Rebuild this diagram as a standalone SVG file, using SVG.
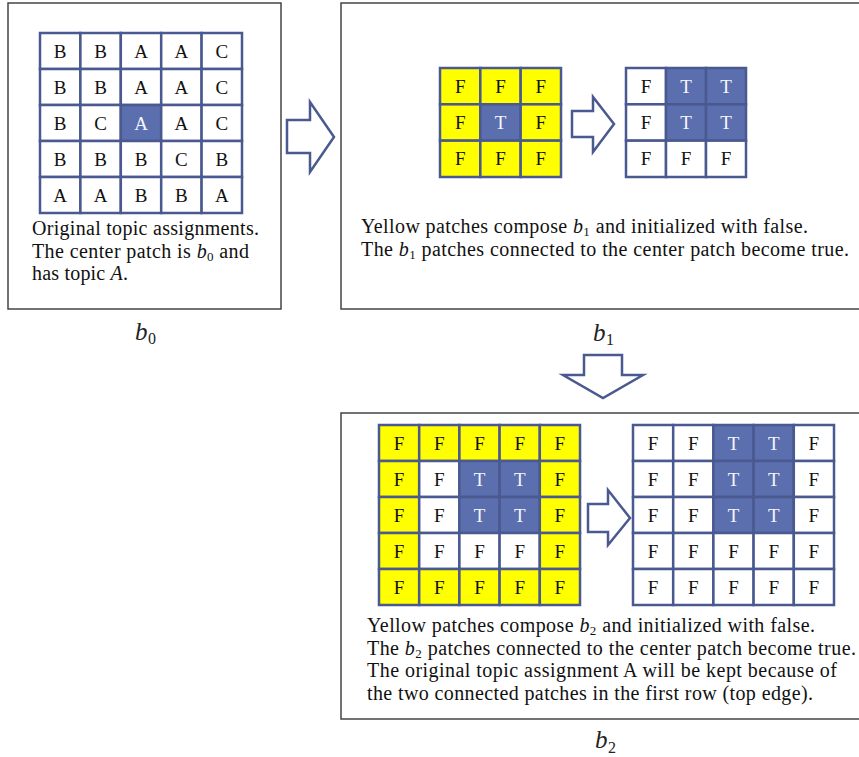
<svg xmlns="http://www.w3.org/2000/svg" width="859" height="757" viewBox="0 0 859 757">
<style>
.box{fill:#fff;stroke:#444;stroke-width:1.5}
.c{stroke:#4a5990;stroke-width:2.5}
.y{fill:#ffff00}
.w{fill:#fff}
.b{fill:#5b6eae}
.arr{fill:#fff;stroke:#4a5990;stroke-width:2.5;stroke-linejoin:miter}
text{font-family:"Liberation Serif","Times New Roman",serif;fill:#111}
.g text{font-size:19px;text-anchor:middle}
.g text.tw{fill:#f4f6fb}
.p{font-size:20px}
.s{font-size:13px}
.lbl{font-size:25px;font-style:italic;fill:#222}
.sub{font-size:16px;fill:#222}
</style>
<rect width="859" height="757" fill="#fff"/>

<g id="panel-b0">
<rect class="box" x="8" y="3" width="273" height="306"/>
<g id="grid-b0" class="g">
<rect class="c w" x="40" y="33" width="40.4" height="36"/><rect class="c w" x="80.4" y="33" width="40.4" height="36"/><rect class="c w" x="120.8" y="33" width="40.4" height="36"/><rect class="c w" x="161.2" y="33" width="40.4" height="36"/><rect class="c w" x="201.6" y="33" width="40.4" height="36"/>
<rect class="c w" x="40" y="69" width="40.4" height="36"/><rect class="c w" x="80.4" y="69" width="40.4" height="36"/><rect class="c w" x="120.8" y="69" width="40.4" height="36"/><rect class="c w" x="161.2" y="69" width="40.4" height="36"/><rect class="c w" x="201.6" y="69" width="40.4" height="36"/>
<rect class="c w" x="40" y="105" width="40.4" height="36"/><rect class="c w" x="80.4" y="105" width="40.4" height="36"/><rect class="c b" x="120.8" y="105" width="40.4" height="36"/><rect class="c w" x="161.2" y="105" width="40.4" height="36"/><rect class="c w" x="201.6" y="105" width="40.4" height="36"/>
<rect class="c w" x="40" y="141" width="40.4" height="36"/><rect class="c w" x="80.4" y="141" width="40.4" height="36"/><rect class="c w" x="120.8" y="141" width="40.4" height="36"/><rect class="c w" x="161.2" y="141" width="40.4" height="36"/><rect class="c w" x="201.6" y="141" width="40.4" height="36"/>
<rect class="c w" x="40" y="177" width="40.4" height="36"/><rect class="c w" x="80.4" y="177" width="40.4" height="36"/><rect class="c w" x="120.8" y="177" width="40.4" height="36"/><rect class="c w" x="161.2" y="177" width="40.4" height="36"/><rect class="c w" x="201.6" y="177" width="40.4" height="36"/>
<text x="60.2" y="57.5">B</text><text x="100.6" y="57.5">B</text><text x="141" y="57.5">A</text><text x="181.4" y="57.5">A</text><text x="221.8" y="57.5">C</text>
<text x="60.2" y="93.5">B</text><text x="100.6" y="93.5">B</text><text x="141" y="93.5">A</text><text x="181.4" y="93.5">A</text><text x="221.8" y="93.5">C</text>
<text x="60.2" y="129.5">B</text><text x="100.6" y="129.5">C</text><text class="tw" x="141" y="129.5">A</text><text x="181.4" y="129.5">A</text><text x="221.8" y="129.5">C</text>
<text x="60.2" y="165.5">B</text><text x="100.6" y="165.5">B</text><text x="141" y="165.5">B</text><text x="181.4" y="165.5">C</text><text x="221.8" y="165.5">B</text>
<text x="60.2" y="201.5">A</text><text x="100.6" y="201.5">A</text><text x="141" y="201.5">B</text><text x="181.4" y="201.5">B</text><text x="221.8" y="201.5">A</text>
</g>
<text class="p" x="32" y="235" textLength="227" lengthAdjust="spacing">Original topic assignments.</text>
<text class="p" x="32" y="258" textLength="217" lengthAdjust="spacing">The center patch is <tspan font-style="italic">b</tspan><tspan class="s" dy="3">0</tspan><tspan dy="-3"> and</tspan></text>
<text class="p" x="32" y="280" textLength="96" lengthAdjust="spacing">has topic <tspan font-style="italic">A</tspan>.</text>
<text class="lbl" x="135" y="340">b</text><text class="sub" x="148" y="344">0</text>
</g>

<g id="panel-b1">
<rect class="box" x="341" y="3" width="525" height="306"/>
<g id="grid-b1-in" class="g">
<rect class="c y" x="440" y="68" width="40.33" height="36.33"/><rect class="c y" x="480.33" y="68" width="40.33" height="36.33"/><rect class="c y" x="520.67" y="68" width="40.33" height="36.33"/>
<rect class="c y" x="440" y="104.33" width="40.33" height="36.33"/><rect class="c b" x="480.33" y="104.33" width="40.33" height="36.33"/><rect class="c y" x="520.67" y="104.33" width="40.33" height="36.33"/>
<rect class="c y" x="440" y="140.67" width="40.33" height="36.33"/><rect class="c y" x="480.33" y="140.67" width="40.33" height="36.33"/><rect class="c y" x="520.67" y="140.67" width="40.33" height="36.33"/>
<text x="460.2" y="92.7">F</text><text x="500.5" y="92.7">F</text><text x="540.8" y="92.7">F</text>
<text x="460.2" y="129">F</text><text class="tw" x="500.5" y="129">T</text><text x="540.8" y="129">F</text>
<text x="460.2" y="165.3">F</text><text x="500.5" y="165.3">F</text><text x="540.8" y="165.3">F</text>
</g>
<g id="grid-b1-out" class="g">
<rect class="c w" x="626" y="68" width="40" height="36.33"/><rect class="c b" x="666" y="68" width="40" height="36.33"/><rect class="c b" x="706" y="68" width="40" height="36.33"/>
<rect class="c w" x="626" y="104.33" width="40" height="36.33"/><rect class="c b" x="666" y="104.33" width="40" height="36.33"/><rect class="c b" x="706" y="104.33" width="40" height="36.33"/>
<rect class="c w" x="626" y="140.67" width="40" height="36.33"/><rect class="c w" x="666" y="140.67" width="40" height="36.33"/><rect class="c w" x="706" y="140.67" width="40" height="36.33"/>
<text x="646" y="92.7">F</text><text class="tw" x="686" y="92.7">T</text><text class="tw" x="726" y="92.7">T</text>
<text x="646" y="129">F</text><text class="tw" x="686" y="129">T</text><text class="tw" x="726" y="129">T</text>
<text x="646" y="165.3">F</text><text x="686" y="165.3">F</text><text x="726" y="165.3">F</text>
</g>
<text class="p" x="361" y="233" textLength="447" lengthAdjust="spacing">Yellow patches compose <tspan font-style="italic">b</tspan><tspan class="s" dy="3">1</tspan><tspan dy="-3"> and initialized  with  false.</tspan></text>
<text class="p" x="361" y="256" textLength="488" lengthAdjust="spacing">The <tspan font-style="italic">b</tspan><tspan class="s" dy="3">1</tspan><tspan dy="-3"> patches connected to the center patch become true.</tspan></text>
<text class="lbl" x="593" y="341">b</text><text class="sub" x="606" y="345">1</text>
</g>

<g id="panel-b2">
<rect class="box" x="341" y="413" width="525" height="306"/>
<g id="grid-b2-in" class="g">
<rect class="c y" x="379" y="425" width="40.2" height="36"/><rect class="c y" x="419.2" y="425" width="40.2" height="36"/><rect class="c y" x="459.4" y="425" width="40.2" height="36"/><rect class="c y" x="499.6" y="425" width="40.2" height="36"/><rect class="c y" x="539.8" y="425" width="40.2" height="36"/>
<rect class="c y" x="379" y="461" width="40.2" height="36"/><rect class="c w" x="419.2" y="461" width="40.2" height="36"/><rect class="c b" x="459.4" y="461" width="40.2" height="36"/><rect class="c b" x="499.6" y="461" width="40.2" height="36"/><rect class="c y" x="539.8" y="461" width="40.2" height="36"/>
<rect class="c y" x="379" y="497" width="40.2" height="36"/><rect class="c w" x="419.2" y="497" width="40.2" height="36"/><rect class="c b" x="459.4" y="497" width="40.2" height="36"/><rect class="c b" x="499.6" y="497" width="40.2" height="36"/><rect class="c y" x="539.8" y="497" width="40.2" height="36"/>
<rect class="c y" x="379" y="533" width="40.2" height="36"/><rect class="c w" x="419.2" y="533" width="40.2" height="36"/><rect class="c w" x="459.4" y="533" width="40.2" height="36"/><rect class="c w" x="499.6" y="533" width="40.2" height="36"/><rect class="c y" x="539.8" y="533" width="40.2" height="36"/>
<rect class="c y" x="379" y="569" width="40.2" height="36"/><rect class="c y" x="419.2" y="569" width="40.2" height="36"/><rect class="c y" x="459.4" y="569" width="40.2" height="36"/><rect class="c y" x="499.6" y="569" width="40.2" height="36"/><rect class="c y" x="539.8" y="569" width="40.2" height="36"/>
<text x="399.1" y="449.5">F</text><text x="439.3" y="449.5">F</text><text x="479.5" y="449.5">F</text><text x="519.7" y="449.5">F</text><text x="559.9" y="449.5">F</text>
<text x="399.1" y="485.5">F</text><text x="439.3" y="485.5">F</text><text class="tw" x="479.5" y="485.5">T</text><text class="tw" x="519.7" y="485.5">T</text><text x="559.9" y="485.5">F</text>
<text x="399.1" y="521.5">F</text><text x="439.3" y="521.5">F</text><text class="tw" x="479.5" y="521.5">T</text><text class="tw" x="519.7" y="521.5">T</text><text x="559.9" y="521.5">F</text>
<text x="399.1" y="557.5">F</text><text x="439.3" y="557.5">F</text><text x="479.5" y="557.5">F</text><text x="519.7" y="557.5">F</text><text x="559.9" y="557.5">F</text>
<text x="399.1" y="593.5">F</text><text x="439.3" y="593.5">F</text><text x="479.5" y="593.5">F</text><text x="519.7" y="593.5">F</text><text x="559.9" y="593.5">F</text>
</g>
<g id="grid-b2-out" class="g">
<rect class="c w" x="633" y="425" width="40.2" height="36"/><rect class="c w" x="673.2" y="425" width="40.2" height="36"/><rect class="c b" x="713.4" y="425" width="40.2" height="36"/><rect class="c b" x="753.6" y="425" width="40.2" height="36"/><rect class="c w" x="793.8" y="425" width="40.2" height="36"/>
<rect class="c w" x="633" y="461" width="40.2" height="36"/><rect class="c w" x="673.2" y="461" width="40.2" height="36"/><rect class="c b" x="713.4" y="461" width="40.2" height="36"/><rect class="c b" x="753.6" y="461" width="40.2" height="36"/><rect class="c w" x="793.8" y="461" width="40.2" height="36"/>
<rect class="c w" x="633" y="497" width="40.2" height="36"/><rect class="c w" x="673.2" y="497" width="40.2" height="36"/><rect class="c b" x="713.4" y="497" width="40.2" height="36"/><rect class="c b" x="753.6" y="497" width="40.2" height="36"/><rect class="c w" x="793.8" y="497" width="40.2" height="36"/>
<rect class="c w" x="633" y="533" width="40.2" height="36"/><rect class="c w" x="673.2" y="533" width="40.2" height="36"/><rect class="c w" x="713.4" y="533" width="40.2" height="36"/><rect class="c w" x="753.6" y="533" width="40.2" height="36"/><rect class="c w" x="793.8" y="533" width="40.2" height="36"/>
<rect class="c w" x="633" y="569" width="40.2" height="36"/><rect class="c w" x="673.2" y="569" width="40.2" height="36"/><rect class="c w" x="713.4" y="569" width="40.2" height="36"/><rect class="c w" x="753.6" y="569" width="40.2" height="36"/><rect class="c w" x="793.8" y="569" width="40.2" height="36"/>
<text x="653.1" y="449.5">F</text><text x="693.3" y="449.5">F</text><text class="tw" x="733.5" y="449.5">T</text><text class="tw" x="773.7" y="449.5">T</text><text x="813.9" y="449.5">F</text>
<text x="653.1" y="485.5">F</text><text x="693.3" y="485.5">F</text><text class="tw" x="733.5" y="485.5">T</text><text class="tw" x="773.7" y="485.5">T</text><text x="813.9" y="485.5">F</text>
<text x="653.1" y="521.5">F</text><text x="693.3" y="521.5">F</text><text class="tw" x="733.5" y="521.5">T</text><text class="tw" x="773.7" y="521.5">T</text><text x="813.9" y="521.5">F</text>
<text x="653.1" y="557.5">F</text><text x="693.3" y="557.5">F</text><text x="733.5" y="557.5">F</text><text x="773.7" y="557.5">F</text><text x="813.9" y="557.5">F</text>
<text x="653.1" y="593.5">F</text><text x="693.3" y="593.5">F</text><text x="733.5" y="593.5">F</text><text x="773.7" y="593.5">F</text><text x="813.9" y="593.5">F</text>
</g>
<text class="p" x="367" y="632" textLength="448" lengthAdjust="spacing">Yellow patches compose <tspan font-style="italic">b</tspan><tspan class="s" dy="3">2</tspan><tspan dy="-3"> and initialized  with  false.</tspan></text>
<text class="p" x="367" y="655" textLength="489" lengthAdjust="spacing">The <tspan font-style="italic">b</tspan><tspan class="s" dy="3">2</tspan><tspan dy="-3"> patches connected to the center patch become true.</tspan></text>
<text class="p" x="367" y="677" textLength="470" lengthAdjust="spacing">The original  topic assignment A will be kept because of</text>
<text class="p" x="367" y="700" textLength="446" lengthAdjust="spacing">the two connected patches in the first row (top edge).</text>
<text class="lbl" x="595" y="748">b</text><text class="sub" x="608" y="753">2</text>
</g>

<g id="connectors">
<path class="arr" d="M287,120 H310 V102 L334,137 L310,172 V153 H287 Z"/>
<path class="arr" d="M572,111 H593 V97 L614,124 L593,152 V137 H572 Z"/>
<path class="arr" d="M584,355 H622 V375 H643 L603,398 L563,375 H584 Z"/>
<path class="arr" d="M588,504 H608 V490 L630,518 L608,545 V532 H588 Z"/>
</g>
</svg>
